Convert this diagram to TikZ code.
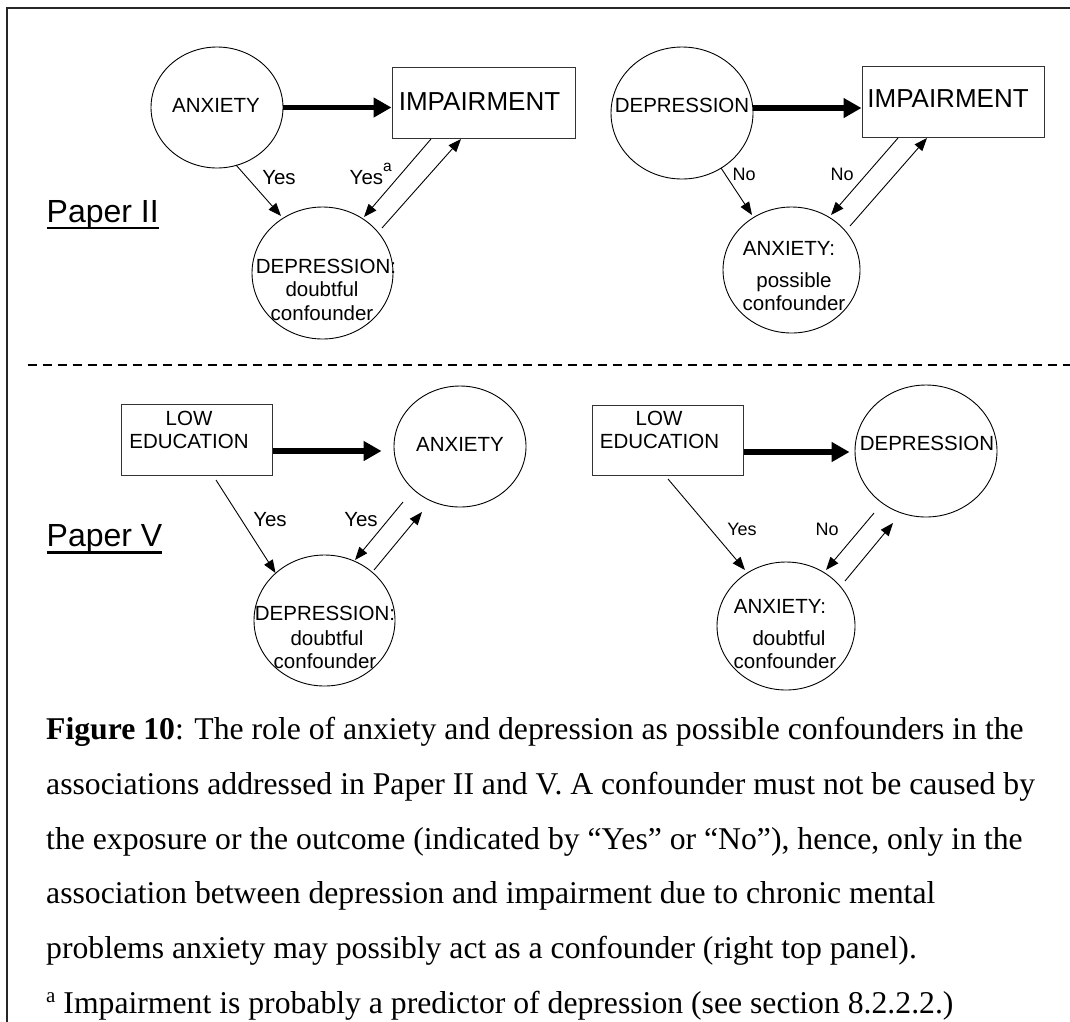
\documentclass[tikz,border=0pt]{standalone}
\usepackage{fontspec}
\setmainfont{Liberation Serif}
\newfontfamily\arialfont{Liberation Sans}
\usetikzlibrary{arrows.meta,shapes.geometric,calc}
\newcommand\myul[1]{\setbox0\hbox{#1}\rlap{\rule[-7pt]{\wd0}{2.4pt}}\box0}
\begin{document}
\begin{tikzpicture}[x=1pt,y=-1pt,
  circ/.style={draw, ellipse, line width=0.9pt, inner sep=0pt},
  bx/.style={draw=black!80, rectangle, line width=1pt, inner sep=0pt},
  lbl/.style={font=\arialfont\fontsize{20.5}{22}\selectfont, inner sep=0pt, anchor=base},
  slbl/.style={font=\arialfont\fontsize{18}{20}\selectfont, inner sep=0pt, anchor=base},
  big/.style={font=\arialfont\fontsize{26}{28}\selectfont, inner sep=0pt, anchor=base},
  paper/.style={font=\arialfont\fontsize{32}{34}\selectfont, inner sep=0pt, anchor=base west},
  captxt/.style={font=\fontsize{31.7}{34}\selectfont, inner sep=0pt, anchor=base west},
  thinarr/.style={line width=0.9pt, -{Triangle[length=13pt,width=10pt]}},
  thickarr/.style={line width=5.5pt, -{Triangle[length=18pt,width=19pt]}},
]
\useasboundingbox (0,0) rectangle (1070,1021);
% frame
\draw[line width=2pt, black!85] (7,1025) -- (7,8) -- (1075,8);
\draw[line width=1.3pt, dash pattern=on 9pt off 6pt] (27.5,365) -- (1075,365);

% ---------- Paper II, left ----------
\node[circ, minimum width=132pt, minimum height=121pt] (anx1) at (217,107.5) {};
\node[bx, minimum width=183pt, minimum height=71pt] (imp1) at (483.5,102.5) {};
\node[circ, minimum width=141pt, minimum height=132pt] (dep1) at (322.5,273) {};
\node[lbl] (tanx1) at (216,112.7) {ANXIETY};
\node[big] (timp1) at (479.5,110) {IMPAIRMENT};
\node[lbl] (tdep1a) at (326,273) {DEPRESSION:};
\node[lbl] (tdep1b) at (322,296.5) {doubtful};
\node[lbl] (tdep1c) at (322,320) {confounder};
\draw[thickarr] (anx1.east) -- (anx1.east -| imp1.west);
\draw[thinarr] ($(anx1)+(19,57.5)$) -- ($(dep1)+(-41.5,-57)$);
\draw[thinarr] ($(imp1)+(-52.5,36.5)$) -- ($(dep1)+(41.5,-56)$);
\draw[thinarr] ($(dep1)+(59.5,-45)$) -- ($(imp1)+(-22.5,36.5)$);
\node[lbl] (y1) at (279,184.3) {Yes};
\node[lbl, anchor=base west] (y2) at (349.5,184.3) {Yes\raisebox{13pt}{\fontsize{15.5}{15.5}\selectfont a}};
\node[paper] (p2) at (46.5,222) {\myul{Paper II}};

% ---------- Paper II, right ----------
\node[circ, minimum width=142pt, minimum height=132pt] (dep2) at (682,113) {};
\node[bx, minimum width=182pt, minimum height=71pt] (imp2) at (953,101.5) {};
\node[circ, minimum width=137pt, minimum height=126pt] (anx2) at (791.5,270) {};
\node[lbl] (tdep2) at (682,112.7) {DEPRESSION};
\node[big] (timp2) at (948,107) {IMPAIRMENT};
\node[lbl] (tanx2a) at (789,255) {ANXIETY:};
\node[lbl] (tanx2b) at (794,287) {possible};
\node[lbl] (tanx2c) at (794,310) {confounder};
\draw[thickarr] (dep2.4) -- (dep2.4 -| imp2.west);
\draw[thinarr] ($(dep2)+(39,55)$) -- ($(anx2)+(-39.5,-55)$);
\draw[thinarr] ($(imp2)+(-55,36.5)$) -- ($(anx2)+(39.5,-55)$);
\draw[thinarr] ($(anx2)+(58.5,-44)$) -- ($(imp2)+(-26,36.5)$);
\node[slbl] (n1) at (744,180.4) {No};
\node[slbl] (n2) at (842,180.4) {No};

% ---------- Paper V, left ----------
\node[bx, minimum width=151.5pt, minimum height=71pt] (edu1) at (197,439.5) {};
\node[circ, minimum width=132pt, minimum height=121pt] (anx3) at (460,446.5) {};
\node[circ, minimum width=141pt, minimum height=131pt] (dep3) at (324.5,620.5) {};
\node[lbl] (tedu1a) at (189,425) {LOW};
\node[lbl] (tedu1b) at (189,448) {EDUCATION};
\node[lbl] (tanx3) at (460,451.7) {ANXIETY};
\node[lbl] (tdep3a) at (325,620) {DEPRESSION:};
\node[lbl] (tdep3b) at (327,645) {doubtful};
\node[lbl] (tdep3c) at (325,668) {confounder};
\draw[thickarr] ($(edu1.east)+(0,11.5)$) -- ($(anx3.west |- edu1.east)+(-12,11.5)$);
\draw[thinarr] ($(edu1)+(19,40.5)$) -- ($(dep3)+(-49,-47.5)$);
\draw[thinarr] ($(anx3)+(-57,55.5)$) -- ($(dep3)+(30.5,-60.5)$);
\draw[thinarr] ($(dep3)+(49.5,-50.5)$) -- ($(anx3)+(-38,65.5)$);
\node[lbl] (y3) at (270,526.3) {Yes};
\node[lbl] (y4) at (361,526.3) {Yes};
\node[paper] (p5) at (46.5,546.7) {\myul{Paper V}};

% ---------- Paper V, right ----------
\node[bx, minimum width=151pt, minimum height=70pt] (edu2) at (667.5,440) {};
\node[circ, minimum width=142pt, minimum height=132pt] (dep4) at (926,451) {};
\node[circ, minimum width=138pt, minimum height=128pt] (anx4) at (786,626) {};
\node[lbl] (tedu2a) at (659,425) {LOW};
\node[lbl] (tedu2b) at (659.5,448) {EDUCATION};
\node[lbl] (tdep4) at (927,450.7) {DEPRESSION};
\node[lbl] (tanx4a) at (780,613) {ANXIETY:};
\node[lbl] (tanx4b) at (789,645) {doubtful};
\node[lbl] (tanx4c) at (785,668) {confounder};
\draw[thickarr] ($(edu2.east)+(0,12)$) -- ($(dep4.west |- edu2.east)+(-5,12)$);
\draw[thinarr] ($(edu2)+(0.5,39)$) -- ($(anx4)+(-41,-56)$);
\draw[thinarr] ($(dep4)+(-52,62)$) -- ($(anx4)+(40,-56)$);
\draw[thinarr] ($(anx4)+(59,-45)$) -- ($(dep4)+(-33,72)$);
\node[slbl] (y5) at (742,535.4) {Yes};
\node[slbl] (n3) at (827,535.4) {No};

% ---------- caption ----------
\node[captxt] (c1) at (46,739) {\textbf{Figure 10}: The role of anxiety and depression as possible confounders in the};
\node[captxt] (c2) at (46,794) {associations addressed in Paper II and V. A confounder must not be caused by};
\node[captxt] (c3) at (46,849) {the exposure or the outcome (indicated by “Yes” or “No”), hence, only in the};
\node[captxt] (c4) at (46,903.5) {association between depression and impairment due to chronic mental};
\node[captxt] (c5) at (46,958) {problems anxiety may possibly act as a confounder (right top panel).};
\node[captxt] (c6) at (46,1013) {\raisebox{10.5pt}{\fontsize{21}{21}\selectfont a} Impairment is probably a predictor of depression (see section 8.2.2.2.)};
\end{tikzpicture}
\end{document}
